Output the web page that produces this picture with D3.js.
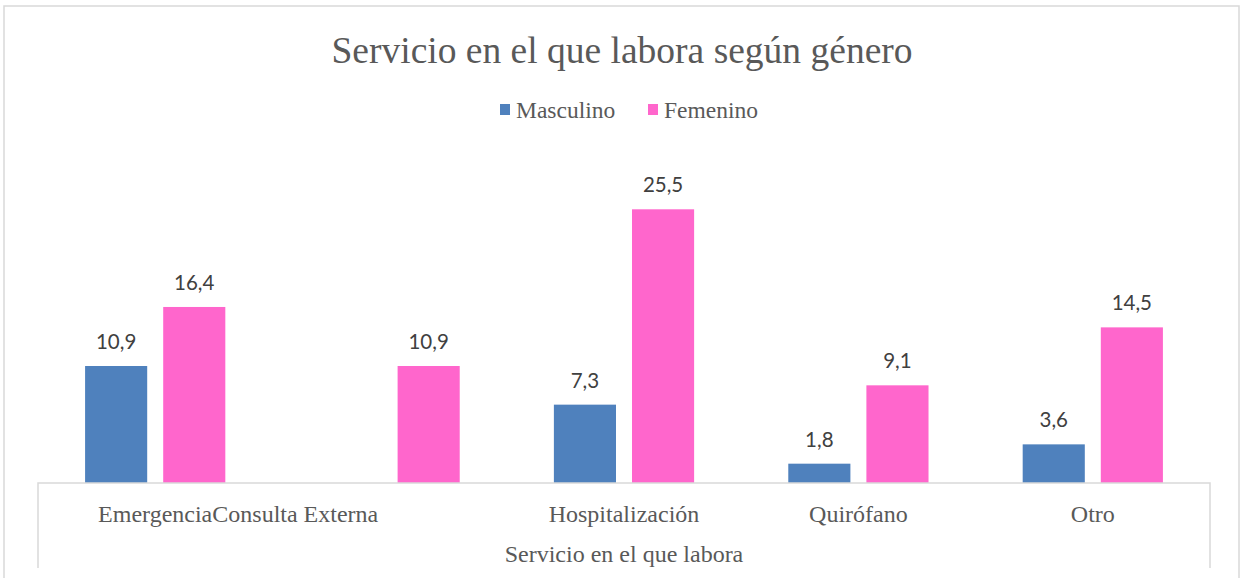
<!DOCTYPE html>
<html>
<head>
<meta charset="utf-8">
<script src="https://cdn.jsdelivr.net/npm/d3@7"></script>
<style>
  body { margin: 0; background: #fff; }
  svg { display: block; }
</style>
</head>
<body>
<div id="chart"></div>
<script>
// data
var categories = ["Emergencia", "Consulta Externa", "Hospitalización", "Quirófano", "Otro"];
var series = ["Masculino", "Femenino"];
var masculino = [10.9, null, 7.3, 1.8, 3.6];
var femenino = [16.4, 10.9, 25.5, 9.1, 14.5];
var colors = ["#4F81BD", "#FF66CC"];

var W = 1243, H = 578;
var left = 38, right = 1210, base = 483;

var svg = d3.select("#chart").append("svg")
    .attr("width", W)
    .attr("height", H);

// outer frame
svg.append("path")
    .attr("d", "M4,578 V6 H1239 V578")
    .attr("fill", "none")
    .attr("stroke", "#d9d9d9")
    .attr("stroke-width", 1.5);

var x = d3.scaleBand().domain(categories).range([left, right]).paddingInner(0).paddingOuter(0);
var y = d3.scaleLinear().domain([0, 30]).range([base, 161]);

var barW = x.bandwidth() * 0.265;
var gap = 16;

var serif = "'Liberation Serif', 'Times New Roman', serif";

// title
svg.append("text")
    .attr("x", 622)
    .attr("y", 63)
    .attr("text-anchor", "middle")
    .style("font-family", serif)
    .style("font-size", "37.5px")
    .style("fill", "#595959")
    .text("Servicio en el que labora según género");

// legend
var legend = svg.append("g");
var lx = [500, 648];
series.forEach(function(s, i) {
    legend.append("rect")
        .attr("x", lx[i])
        .attr("y", 104)
        .attr("width", 10)
        .attr("height", 11)
        .attr("fill", colors[i]);
    legend.append("text")
        .attr("x", lx[i] + 16)
        .attr("y", 118)
        .style("font-family", serif)
        .style("font-size", "23.5px")
        .style("fill", "#595959")
        .text(s);
});

// bars
var data = [masculino, femenino];
data.forEach(function(vals, si) {
    var g = svg.append("g");
    categories.forEach(function(c, ci) {
        var v = vals[ci];
        if (v == null) return;
        var cx = x(c) + x.bandwidth() / 2 + (si == 0 ? -1 : 1) * (barW + gap) / 2;
        g.append("rect")
            .attr("x", cx - barW / 2)
            .attr("y", y(v))
            .attr("width", barW)
            .attr("height", base - y(v))
            .attr("fill", colors[si]);
        g.append("text")
            .attr("x", cx)
            .attr("y", y(v) - 17)
            .attr("text-anchor", "middle")
            .style("font-family", "Lato, 'Open Sans', sans-serif")
            .style("font-size", "20.5px")
            .style("fill", "#404040")
            .text(String(v).replace(".", ","));
    });
});

// axis box
svg.append("path")
    .attr("d", "M" + left + ",568 V" + base + " H" + right + " V568")
    .attr("fill", "none")
    .attr("stroke", "#d9d9d9")
    .attr("stroke-width", 1.5);

// category labels
var labelStyle = function(t) {
    t.style("font-family", serif)
     .style("font-size", "24px")
     .style("fill", "#595959");
};
var prevEnd = null;
categories.forEach(function(c, ci) {
    var t = svg.append("text")
        .attr("y", 522)
        .call(labelStyle)
        .text(c);
    var w = t.node().getComputedTextLength();
    var cx = x(c) + x.bandwidth() / 2;
    var start = cx - w / 2;
    // the long label sits right after the previous one, as in the source
    if (prevEnd != null && start < prevEnd) start = prevEnd;
    if (ci == 1) start = prevEnd;
    t.attr("x", start);
    prevEnd = start + w;
});

// axis title
svg.append("text")
    .attr("x", 624)
    .attr("y", 562)
    .attr("text-anchor", "middle")
    .call(labelStyle)
    .text("Servicio en el que labora");
</script>
</body>
</html>
